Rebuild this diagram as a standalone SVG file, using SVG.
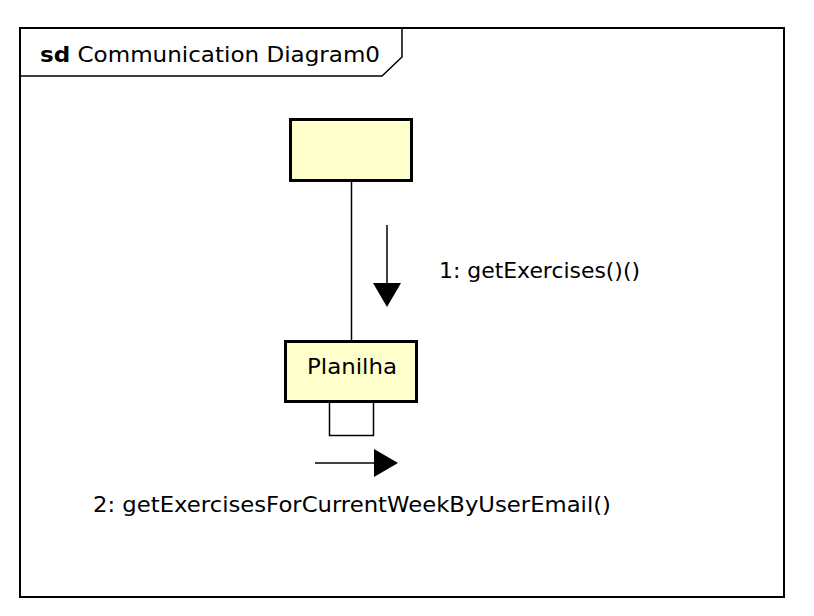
<svg xmlns="http://www.w3.org/2000/svg" width="814" height="616" viewBox="0 0 814 616">
<style>
.t{font-family:"DejaVu Sans","Liberation Sans",sans-serif;font-size:22px;fill:#000}
.node{fill:#ffffcc;stroke:#000;stroke-width:3}
.ln{stroke:#000;stroke-width:1.5;fill:none}
</style>
<rect x="0" y="0" width="814" height="616" fill="#fff"/>
<g id="frame">
<rect x="20" y="28" width="764" height="569" fill="none" stroke="#000" stroke-width="2"/>
<path d="M20 76 H382 L402 57 V28" fill="none" stroke="#000" stroke-width="1.5"/>
<text class="t" x="40" y="62" textLength="340" lengthAdjust="spacingAndGlyphs"><tspan font-weight="bold">sd</tspan> Communication Diagram0</text>
</g>
<g id="connectors">
<line class="ln" x1="351.5" y1="181" x2="351.5" y2="341"/>
<path class="ln" d="M329.5 403 V435.5 H373.5 V403"/>
<line class="ln" x1="387" y1="225" x2="387" y2="285"/>
<polygon points="373,283 401,283 387,307" fill="#000"/>
<text class="t" x="439" y="278" textLength="201" lengthAdjust="spacingAndGlyphs">1: getExercises()()</text>
<line class="ln" x1="315" y1="463" x2="376" y2="463"/>
<polygon points="374,449 374,477 398,463" fill="#000"/>
<text class="t" x="93" y="512" textLength="518" lengthAdjust="spacingAndGlyphs">2: getExercisesForCurrentWeekByUserEmail()</text>
</g>
<g id="node1">
<rect class="node" x="290.5" y="119.5" width="121" height="61"/>
</g>
<g id="planilha">
<rect class="node" x="285.5" y="341.5" width="131" height="60"/>
<text class="t" x="307" y="374" textLength="90" lengthAdjust="spacingAndGlyphs">Planilha</text>
</g>
</svg>
